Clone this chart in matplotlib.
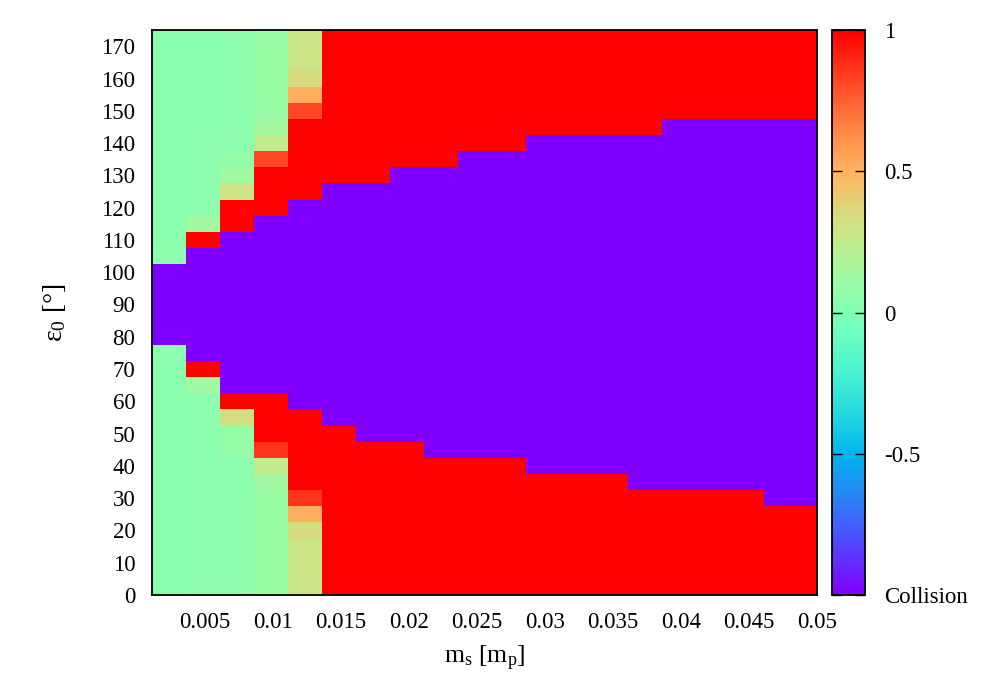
import numpy as np
import matplotlib
matplotlib.use("Agg")
import matplotlib.pyplot as plt

plt.rcParams['font.family'] = ['Liberation Serif', 'DejaVu Serif']
plt.rcParams['mathtext.fontset'] = 'custom'
plt.rcParams['mathtext.rm'] = 'Liberation Serif'
plt.rcParams['mathtext.it'] = 'Liberation Serif:italic'

# satellite mass (cell centres, in planet masses)
ms = [0.00235, 0.00485, 0.00735, 0.00985, 0.01235, 0.01485, 0.01735, 0.01985,
      0.02235, 0.02485, 0.02735, 0.02985, 0.03235, 0.03485, 0.03735, 0.03985,
      0.04235, 0.04485, 0.04735, 0.04985]
# initial obliquity (cell centres, degrees)
eps0 = list(range(0, 180, 5))

C = -1.0  # collision
R = 1.0
# outcome[row for each eps0][column for each ms]
outcome = [
    [0.04, 0.05, 0.05, 0.10, 0.29, R, R, R, R, R, R, R, R, R, R, R, R, R, R, R],  # 0
    [0.04, 0.05, 0.05, 0.10, 0.29, R, R, R, R, R, R, R, R, R, R, R, R, R, R, R],  # 5
    [0.04, 0.05, 0.05, 0.10, 0.29, R, R, R, R, R, R, R, R, R, R, R, R, R, R, R],  # 10
    [0.04, 0.05, 0.05, 0.10, 0.29, R, R, R, R, R, R, R, R, R, R, R, R, R, R, R],  # 15
    [0.04, 0.05, 0.05, 0.10, 0.34, R, R, R, R, R, R, R, R, R, R, R, R, R, R, R],  # 20
    [0.04, 0.05, 0.05, 0.10, 0.52, R, R, R, R, R, R, R, R, R, R, R, R, R, R, R],  # 25
    [0.04, 0.05, 0.05, 0.10, 0.86, R, R, R, R, R, R, R, R, R, R, R, R, R, C, C],  # 30
    [0.04, 0.05, 0.05, 0.13, R,    R, R, R, R, R, R, R, R, R, C, C, C, C, C, C],  # 35
    [0.04, 0.05, 0.05, 0.25, R,    R, R, R, R, R, R, C, C, C, C, C, C, C, C, C],  # 40
    [0.04, 0.05, 0.09, 0.86, R,    R, R, R, C, C, C, C, C, C, C, C, C, C, C, C],  # 45
    [0.04, 0.05, 0.09, R,    R,    R, C, C, C, C, C, C, C, C, C, C, C, C, C, C],  # 50
    [0.04, 0.05, 0.33, R,    R,    C, C, C, C, C, C, C, C, C, C, C, C, C, C, C],  # 55
    [0.04, 0.05, R,    R,    C,    C, C, C, C, C, C, C, C, C, C, C, C, C, C, C],  # 60
    [0.04, 0.13, C,    C,    C,    C, C, C, C, C, C, C, C, C, C, C, C, C, C, C],  # 65
    [0.04, R,    C,    C,    C,    C, C, C, C, C, C, C, C, C, C, C, C, C, C, C],  # 70
    [0.05, C,    C,    C,    C,    C, C, C, C, C, C, C, C, C, C, C, C, C, C, C],  # 75
    [C,    C,    C,    C,    C,    C, C, C, C, C, C, C, C, C, C, C, C, C, C, C],  # 80
    [C,    C,    C,    C,    C,    C, C, C, C, C, C, C, C, C, C, C, C, C, C, C],  # 85
    [C,    C,    C,    C,    C,    C, C, C, C, C, C, C, C, C, C, C, C, C, C, C],  # 90
    [C,    C,    C,    C,    C,    C, C, C, C, C, C, C, C, C, C, C, C, C, C, C],  # 95
    [C,    C,    C,    C,    C,    C, C, C, C, C, C, C, C, C, C, C, C, C, C, C],  # 100
    [0.06, C,    C,    C,    C,    C, C, C, C, C, C, C, C, C, C, C, C, C, C, C],  # 105
    [0.04, R,    C,    C,    C,    C, C, C, C, C, C, C, C, C, C, C, C, C, C, C],  # 110
    [0.04, 0.13, R,    C,    C,    C, C, C, C, C, C, C, C, C, C, C, C, C, C, C],  # 115
    [0.04, 0.05, R,    R,    C,    C, C, C, C, C, C, C, C, C, C, C, C, C, C, C],  # 120
    [0.04, 0.05, 0.30, R,    R,    C, C, C, C, C, C, C, C, C, C, C, C, C, C, C],  # 125
    [0.04, 0.05, 0.12, R,    R,    R, R, C, C, C, C, C, C, C, C, C, C, C, C, C],  # 130
    [0.04, 0.05, 0.08, 0.82, R,    R, R, R, R, C, C, C, C, C, C, C, C, C, C, C],  # 135
    [0.04, 0.05, 0.05, 0.25, R,    R, R, R, R, R, R, C, C, C, C, C, C, C, C, C],  # 140
    [0.04, 0.04, 0.05, 0.14, R,    R, R, R, R, R, R, R, R, R, R, C, C, C, C, C],  # 145
    [0.04, 0.04, 0.05, 0.10, 0.82, R, R, R, R, R, R, R, R, R, R, R, R, R, R, R],  # 150
    [0.04, 0.04, 0.05, 0.10, 0.52, R, R, R, R, R, R, R, R, R, R, R, R, R, R, R],  # 155
    [0.04, 0.04, 0.05, 0.10, 0.34, R, R, R, R, R, R, R, R, R, R, R, R, R, R, R],  # 160
    [0.04, 0.04, 0.05, 0.10, 0.29, R, R, R, R, R, R, R, R, R, R, R, R, R, R, R],  # 165
    [0.04, 0.04, 0.05, 0.10, 0.29, R, R, R, R, R, R, R, R, R, R, R, R, R, R, R],  # 170
    [0.04, 0.04, 0.05, 0.10, 0.29, R, R, R, R, R, R, R, R, R, R, R, R, R, R, R],  # 175
]

xticks = [0.005, 0.01, 0.015, 0.02, 0.025, 0.03, 0.035, 0.04, 0.045, 0.05]
xticklabels = ['0.005', '0.01', '0.015', '0.02', '0.025', '0.03', '0.035', '0.04', '0.045', '0.05']
yticks = list(range(0, 171, 10))
cbticks = [-1, -0.5, 0, 0.5, 1]
cbticklabels = ['Collision', '-0.5', '0', '0.5', '1']


def edges(c):
    c = np.asarray(c, dtype=float)
    mid = (c[1:] + c[:-1]) / 2
    return np.concatenate([[c[0] - (mid[0] - c[0])], mid, [c[-1] + (c[-1] - mid[-1])]])


Z = np.array(outcome)
fig = plt.figure(figsize=(10, 7), dpi=100)
ax = fig.add_axes([0.152, 0.15, 0.665, 0.807])
mesh = ax.pcolormesh(edges(ms), edges(eps0), Z, cmap='rainbow', vmin=-1, vmax=1,
                     shading='flat', edgecolors='none', antialiased=False)
ax.set_xlim(0.0011, 0.05)
ax.set_ylim(0, 175)
ax.set_xticks(xticks)
ax.set_xticklabels(xticklabels)
ax.set_yticks(yticks)
ax.tick_params(axis='both', length=0, labelsize=16.5)
ax.tick_params(axis='x', pad=12)
ax.tick_params(axis='y', pad=12)
for s in ax.spines.values():
    s.set_linewidth(1.3)
ax.set_xlabel(r'm$_\mathrm{s}$ [m$_\mathrm{p}$]', fontsize=18.5, labelpad=8)
ax.set_ylabel(r'ε$_\mathrm{0}$ [°]', fontsize=20, labelpad=24)

cax = fig.add_axes([0.832, 0.15, 0.033, 0.807])
cb = fig.colorbar(mesh, cax=cax)
cb.set_ticks(cbticks)
cb.set_ticklabels(cbticklabels)
cax.tick_params(axis='y', direction='in', length=7, width=1, labelsize=16.5, pad=14,
                left=True, right=True)
cb.outline.set_linewidth(1.3)

fig.savefig('out.png', dpi=100)
